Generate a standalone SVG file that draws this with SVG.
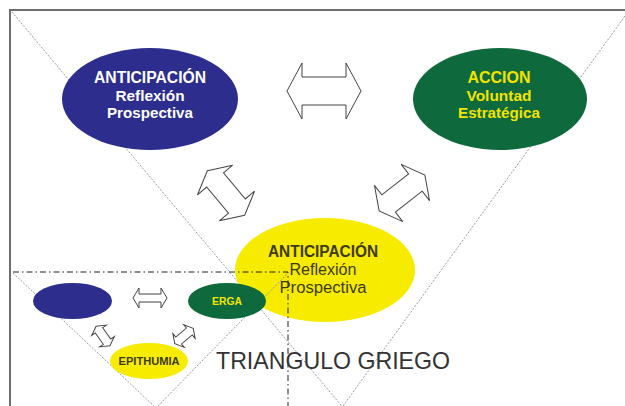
<svg xmlns="http://www.w3.org/2000/svg" xmlns:xlink="http://www.w3.org/1999/xlink" width="625" height="406" viewBox="0 0 625 406">
  <style>
    .tri { stroke: #8c8ca0; stroke-width: 0.9; stroke-dasharray: 2 1.5; fill: none; }
    .dd { stroke: #222; stroke-width: 1; stroke-dasharray: 6 3 1.5 3; fill: none; }
    .arr { fill: #fff; stroke: #444; stroke-width: 1; stroke-linejoin: miter; }
    .t { font-family: "Liberation Sans", Arial, sans-serif; text-anchor: middle; }
    .b { font-weight: bold; }
  </style>
  <defs>
    <path id="dblH" d="M-37,0 L-22,-28 L-22,-14 L22,-14 L22,-28 L37,0 L22,28 L22,14 L-22,14 L-22,28 Z"/>
    <path id="dblD" d="M-29,0 L-17,-23 L-17,-11 L17,-11 L17,-23 L29,0 L17,23 L17,11 L-17,11 L-17,23 Z"/>
    <path id="dblSH" d="M-17,0 L-11,-10 L-11,-4 L11,-4 L11,-10 L17,0 L11,10 L11,4 L-11,4 L-11,10 Z"/>
    <path id="dblSD" d="M-12,0 L-7,-9 L-7,-4.5 L7,-4.5 L7,-9 L12,0 L7,9 L7,4.5 L-7,4.5 L-7,9 Z"/>
  </defs>
  <rect width="625" height="406" fill="#fff"/>
  <path d="M10,406 L10,10 L625,10" fill="none" stroke="#6e6e6e" stroke-width="2"/>
  <g id="big-triangle">
    <line class="tri" x1="12" y1="12" x2="345" y2="410"/>
    <line class="tri" x1="625" y1="16" x2="343" y2="406"/>
  </g>
  <g id="node-anticipacion">
    <ellipse cx="150" cy="99" rx="88" ry="51" fill="#2c2d8c"/>
    <text class="t b" x="150" y="83" font-size="16" textLength="112" lengthAdjust="spacingAndGlyphs" fill="#fff">ANTICIPACIÓN</text>
    <text class="t b" x="150" y="100.5" font-size="15.5" textLength="69" lengthAdjust="spacingAndGlyphs" fill="#fff">Reflexión</text>
    <text class="t b" x="150" y="118" font-size="15.5" textLength="86" lengthAdjust="spacingAndGlyphs" fill="#fff">Prospectiva</text>
  </g>
  <g id="node-accion">
    <ellipse cx="500" cy="99" rx="87" ry="51" fill="#0e6a3d"/>
    <text class="t b" x="499" y="83" font-size="16" textLength="63" lengthAdjust="spacingAndGlyphs" fill="#f2e400">ACCION</text>
    <text class="t b" x="499" y="100.5" font-size="15.5" textLength="65" lengthAdjust="spacingAndGlyphs" fill="#f2e400">Voluntad</text>
    <text class="t b" x="499" y="118" font-size="15.5" textLength="82" lengthAdjust="spacingAndGlyphs" fill="#f2e400">Estratégica</text>
  </g>
  <g id="node-anticipacion-2">
    <ellipse cx="325" cy="270" rx="90" ry="52" fill="#f7eb00"/>
    <text class="t b" x="323" y="257" font-size="16" textLength="110" lengthAdjust="spacingAndGlyphs" fill="#3d3b1c">ANTICIPACIÓN</text>
    <text class="t" x="323" y="275" font-size="16" textLength="67" lengthAdjust="spacingAndGlyphs" fill="#3d3b1c">Reflexión</text>
    <text class="t" x="323" y="293" font-size="16" textLength="87" lengthAdjust="spacingAndGlyphs" fill="#3d3b1c">Prospectiva</text>
  </g>
  <g id="connectors">
    <use xlink:href="#dblH" class="arr" transform="translate(324,91)"/>
    <use xlink:href="#dblD" class="arr" transform="translate(226,193) rotate(50)"/>
    <use xlink:href="#dblD" class="arr" transform="translate(402,193) rotate(-38)"/>
    <use xlink:href="#dblSH" class="arr" transform="translate(150,298)"/>
    <use xlink:href="#dblSD" class="arr" transform="translate(103,336) rotate(55)"/>
    <use xlink:href="#dblSD" class="arr" transform="translate(184,336) rotate(-40)"/>
  </g>
  <g id="small-frame">
    <path class="dd" d="M13,272 L288,272 L288,406"/>
    <line class="tri" x1="13" y1="273" x2="156" y2="408"/>
    <line class="tri" x1="289" y1="272" x2="156" y2="408"/>
  </g>
  <g id="node-small-blue">
    <ellipse cx="72.5" cy="301" rx="39.5" ry="18" fill="#2c2d8c"/>
  </g>
  <g id="node-erga">
    <ellipse cx="227" cy="301" rx="39" ry="18" fill="#0e6a3d"/>
    <text class="t b" x="227" y="305" font-size="11" textLength="30" lengthAdjust="spacingAndGlyphs" fill="#f2e400">ERGA</text>
  </g>
  <g id="node-epithumia">
    <ellipse cx="149" cy="361" rx="39" ry="18" fill="#f7eb00"/>
    <text class="t b" x="149" y="365" font-size="11.5" textLength="61" lengthAdjust="spacingAndGlyphs" fill="#3d3b1c">EPITHUMIA</text>
  </g>
  <g id="title">
    <text x="216" y="369" font-family="Liberation Sans, Arial, sans-serif" font-size="24" textLength="234" lengthAdjust="spacingAndGlyphs" fill="#333">TRIANGULO GRIEGO</text>
  </g>
</svg>
